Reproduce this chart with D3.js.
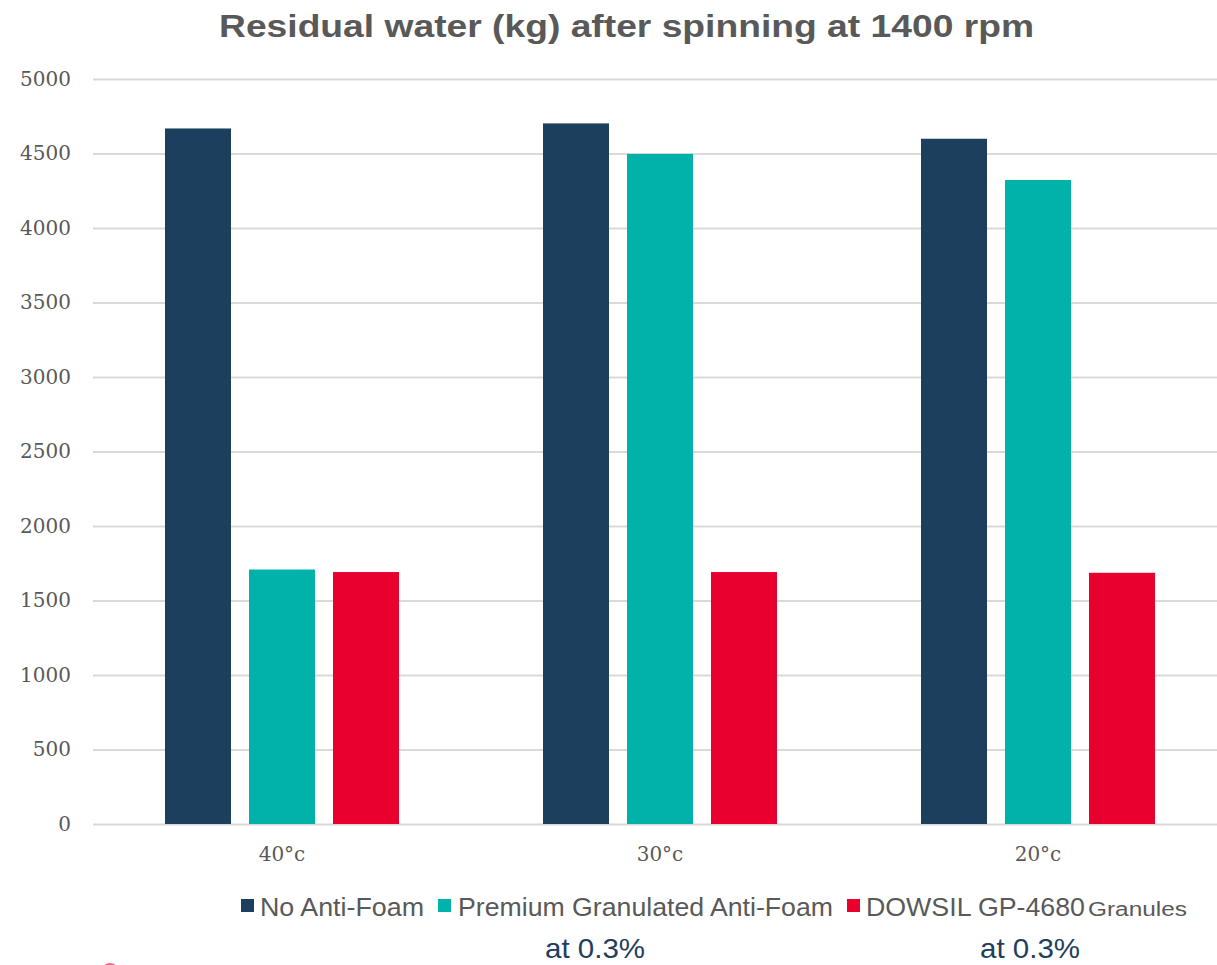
<!DOCTYPE html>
<html>
<head>
<meta charset="utf-8">
<script src="https://cdn.jsdelivr.net/npm/d3@7"></script>
<style>
  html, body { margin: 0; padding: 0; background: #fff; }
  svg { display: block; }
</style>
</head>
<body>
<svg id="chart" width="1217" height="965"></svg>
<script>
// Temperatures on the x axis
const categories = ["40\u00b0c", "30\u00b0c", "20\u00b0c"];
// Series names, legend labels and colours
const seriesKeys = ["none", "premium", "dowsil"];
const seriesNames = ["No Anti-Foam", "Premium Granulated Anti-Foam", "DOWSIL GP-4680"];
const seriesColors = ["#1b3f5c", "#00b2aa", "#e8002f"];
// Residual water values per series, in category order
const noAntiFoam = [4668, 4702, 4599];
const premiumGranulated = [1708, 4497, 4322];
const dowsilGranules = [1691, 1691, 1686];
// Y axis ticks
const yTicks = [0, 500, 1000, 1500, 2000, 2500, 3000, 3500, 4000, 4500, 5000];
// Footnotes under the legend
const footnotes = ["at 0.3%", "at 0.3%"];

const seriesValues = [noAntiFoam, premiumGranulated, dowsilGranules];
const rows = categories.map((c, i) => {
  const r = { category: c };
  seriesKeys.forEach((k, j) => r[k] = seriesValues[j][i]);
  return r;
});

const svg = d3.select("#chart");
const plotLeft = 93, plotRight = 1227, plotTop = 79, plotBottom = 824;

const y = d3.scaleLinear().domain([0, 5000]).range([plotBottom, plotTop]);
const pIn = 144 / 378;
const x0 = d3.scaleBand().domain(categories).range([plotLeft, plotRight])
  .paddingInner(pIn).paddingOuter(pIn / 2);
const x1 = d3.scaleBand().domain(seriesKeys).range([0, x0.bandwidth()])
  .paddingInner(18 / 84).paddingOuter(0);
const color = d3.scaleOrdinal().domain(seriesKeys).range(seriesColors);

// Title (wide set)
svg.append("text")
  .attr("x", 219).attr("y", 37)
  .attr("font-family", "Liberation Sans, Arial, sans-serif")
  .attr("font-weight", "bold")
  .attr("font-size", 32)
  .attr("fill", "#595959")
  .attr("textLength", 815)
  .attr("lengthAdjust", "spacingAndGlyphs")
  .text("Residual water (kg) after spinning at 1400 rpm");

// Gridlines and y labels
const yAxis = d3.axisLeft(y).tickValues(yTicks).tickFormat(d3.format("d"))
  .tickSize(-(plotRight - plotLeft)).tickPadding(22);
const gy = svg.append("g").attr("transform", `translate(${plotLeft},0)`).call(yAxis);
gy.select(".domain").remove();
gy.selectAll(".tick line").attr("stroke", "#d9d9d9").attr("stroke-width", 2);
gy.selectAll(".tick text")
  .attr("font-family", "DejaVu Serif, Georgia, serif")
  .attr("font-size", 20)
  .attr("fill", "#595959");

// Bars
const groups = svg.append("g").selectAll("g").data(rows).join("g")
  .attr("transform", d => `translate(${x0(d.category)},0)`);
groups.selectAll("rect")
  .data(d => seriesKeys.map(k => ({ key: k, value: d[k] })))
  .join("rect")
  .attr("x", d => x1(d.key))
  .attr("width", x1.bandwidth())
  .attr("y", d => y(d.value))
  .attr("height", d => y(0) - y(d.value))
  .attr("fill", d => color(d.key));

// X labels
const xAxis = d3.axisBottom(x0).tickSize(0).tickPadding(23);
const gx = svg.append("g").attr("transform", `translate(0,${plotBottom})`).call(xAxis);
gx.select(".domain").remove();
gx.selectAll(".tick text")
  .attr("font-family", "DejaVu Serif, Georgia, serif")
  .attr("font-size", 20)
  .attr("fill", "#595959");

// Legend
const legendItems = [
  { key: "none", x: 241, textX: 260, len: 164 },
  { key: "premium", x: 438, textX: 458, len: 375 },
  { key: "dowsil", x: 847, textX: 866, len: 219 }
];
const lg = svg.append("g");
legendItems.forEach((it, i) => {
  lg.append("rect").attr("x", it.x).attr("y", 899).attr("width", 13).attr("height", 13)
    .attr("fill", color(it.key));
  lg.append("text").attr("x", it.textX).attr("y", 916)
    .attr("font-family", "Liberation Sans, Arial, sans-serif")
    .attr("font-size", 25).attr("fill", "#595959")
    .attr("textLength", it.len).attr("lengthAdjust", "spacingAndGlyphs")
    .text(seriesNames[i]);
  if (it.key === "dowsil") {
    lg.append("text").attr("x", 1088).attr("y", 916)
      .attr("font-family", "Liberation Sans, Arial, sans-serif")
      .attr("font-size", 20).attr("fill", "#595959")
      .attr("textLength", 99).attr("lengthAdjust", "spacingAndGlyphs")
      .text("Granules");
  }
});

// Footnotes
[545, 980].forEach((fx, i) => {
  svg.append("text").attr("x", fx).attr("y", 958)
    .attr("font-family", "Liberation Sans, Arial, sans-serif")
    .attr("font-size", 28).attr("fill", "#1f3e5e")
    .attr("textLength", 100).attr("lengthAdjust", "spacingAndGlyphs")
    .text(footnotes[i]);
});

// Small brand mark at the bottom edge
svg.append("ellipse").attr("cx", 110).attr("cy", 972).attr("rx", 8).attr("ry", 8)
  .attr("fill", "none").attr("stroke", "#f4628a").attr("stroke-width", 2);
</script>
</body>
</html>
